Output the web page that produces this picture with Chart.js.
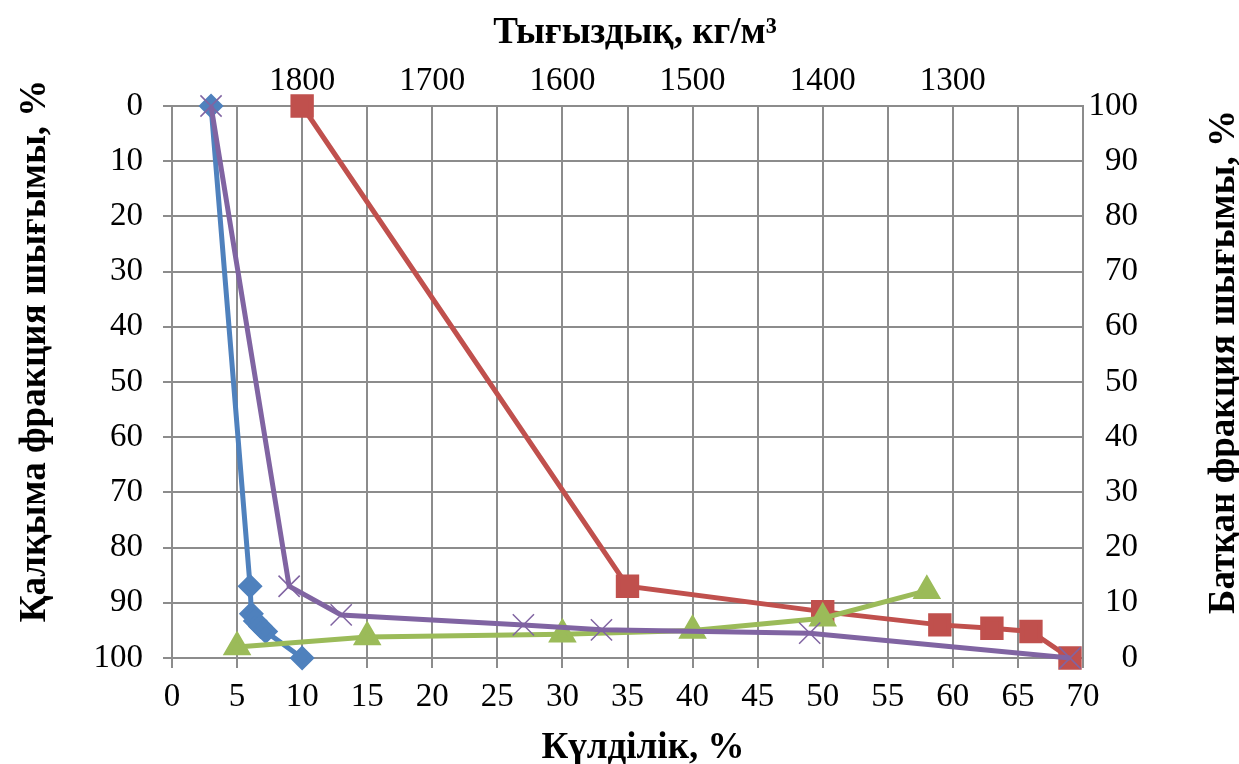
<!DOCTYPE html>
<html>
<head>
    <meta charset="utf-8">
    <script src="https://cdn.jsdelivr.net/npm/chart.js"></script>
    <title>Күлділік</title>
    <style>
        body {
            margin: 0;
            background: #ffffff;
        }
    </style>
</head>
<body>
    <canvas id="chart" width="1239" height="764"></canvas>
    <script>
        // series (x = ash content %, y = yield %)
        const blueX = [3, 6, 6.1, 6.4, 6.8, 7.2, 10]
        const blueY = [0, 87, 92, 93.3, 94.3, 95.2, 100]

        const redX = [10, 35, 50, 59, 63, 66, 69]
        const redY = [0, 87, 91.6, 94, 94.6, 95.2, 100]

        const purpleX = [3, 9, 13, 27, 33, 49, 69]
        const purpleY = [0, 87, 92.2, 94, 94.9, 95.5, 100]

        // green is read against the right axis
        const greenX = [5, 15, 30, 40, 50, 58]
        const greenY = [2, 3.8, 4.3, 5, 7.2, 12.2]

        const hiddenDensity = [1200, 1900]

        const serif = 'Liberation Serif, Times New Roman, serif'
        const gridGray = '#8c8c8c'

        function points(xs, ys) {
            return xs.map(function (x, i) {
                return { x: x, y: ys[i] }
            })
        }

        const titles = {
            id: 'titles',
            afterDraw: function (chart) {
                const ctx = chart.ctx
                ctx.save()
                ctx.fillStyle = '#000'
                ctx.font = 'bold 37px ' + serif
                ctx.textAlign = 'center'
                ctx.textBaseline = 'alphabetic'
                ctx.fillText('Тығыздық, кг/м³', 635, 43)
                ctx.fillText('Күлділік, %', 643, 758)

                ctx.translate(45, 351)
                ctx.rotate(-Math.PI / 2)
                ctx.fillText('Қалқыма фракция шығымы, %', 0, 0)
                ctx.restore()

                ctx.save()
                ctx.fillStyle = '#000'
                ctx.font = 'bold 37px ' + serif
                ctx.textAlign = 'center'
                ctx.translate(1234, 362)
                ctx.rotate(-Math.PI / 2)
                ctx.fillText('Батқан фракция шығымы, %', 0, 0)
                ctx.restore()
            }
        }

        new Chart(document.getElementById('chart'), {
            type: 'scatter',
            data: {
                datasets: [{
                    label: 'purple',
                    data: points(purpleX, purpleY),
                    showLine: true,
                    borderColor: '#8064A2',
                    borderWidth: 5,
                    pointStyle: 'crossRot',
                    pointRadius: 15,
                    pointBorderWidth: 1.5,
                    pointBorderColor: '#8064A2',
                    clip: false
                }, {
                    label: 'green',
                    data: points(greenX, greenY),
                    yAxisID: 'y2',
                    showLine: true,
                    borderColor: '#9BBB59',
                    backgroundColor: '#9BBB59',
                    borderWidth: 5,
                    pointStyle: 'triangle',
                    pointRadius: 11.5,
                    pointBackgroundColor: '#9BBB59',
                    pointBorderColor: '#9BBB59',
                    clip: false
                }, {
                    label: 'red',
                    data: points(redX, redY),
                    showLine: true,
                    borderColor: '#C0504D',
                    backgroundColor: '#C0504D',
                    borderWidth: 5,
                    pointStyle: 'rect',
                    pointRadius: 13,
                    pointBackgroundColor: '#C0504D',
                    pointBorderColor: '#C0504D',
                    clip: false
                }, {
                    label: 'blue',
                    data: points(blueX, blueY),
                    showLine: true,
                    borderColor: '#4F81BD',
                    backgroundColor: '#4F81BD',
                    borderWidth: 5,
                    pointStyle: 'rectRot',
                    pointRadius: 9,
                    pointBackgroundColor: '#4F81BD',
                    pointBorderColor: '#4F81BD',
                    clip: false
                }]
            },
            options: {
                responsive: false,
                animation: false,
                layout: {
                    padding: { left: 0, right: 101, top: 0, bottom: 0 }
                },
                plugins: {
                    legend: { display: false },
                    tooltip: { enabled: false }
                },
                scales: {
                    x: {
                        type: 'linear',
                        position: 'bottom',
                        min: 0,
                        max: 70,
                        afterFit: function (scale) { scale.height = 106 },
                        ticks: {
                            stepSize: 5,
                            color: '#000',
                            padding: 10,
                            font: { family: serif, size: 33 }
                        },
                        grid: { color: gridGray, lineWidth: 2, tickLength: 10 },
                        border: { color: gridGray, width: 2 }
                    },
                    x2: {
                        type: 'linear',
                        position: 'top',
                        min: 1200,
                        max: 1900,
                        reverse: true,
                        afterFit: function (scale) { scale.height = 106 },
                        ticks: {
                            stepSize: 100,
                            color: '#000',
                            padding: 5,
                            font: { family: serif, size: 33 },
                            callback: function (v) {
                                return hiddenDensity.includes(v) ? '' : v
                            }
                        },
                        grid: { display: false, drawTicks: false },
                        border: { display: true, color: gridGray, width: 2 }
                    },
                    y: {
                        position: 'left',
                        min: 0,
                        max: 100,
                        reverse: true,
                        afterFit: function (scale) { scale.width = 172 },
                        ticks: {
                            stepSize: 10,
                            color: '#000',
                            padding: 20,
                            font: { family: serif, size: 33 }
                        },
                        grid: { color: gridGray, lineWidth: 2, tickLength: 9 },
                        border: { color: gridGray, width: 2 }
                    },
                    y2: {
                        position: 'right',
                        min: 0,
                        max: 100,
                        afterFit: function (scale) { scale.width = 55 },
                        ticks: {
                            stepSize: 10,
                            color: '#000',
                            crossAlign: 'far',
                            font: { family: serif, size: 33 }
                        },
                        grid: { display: false, drawTicks: false },
                        border: { display: true, color: gridGray, width: 2 }
                    }
                }
            },
            plugins: [titles]
        })
    </script>
</body>
</html>
